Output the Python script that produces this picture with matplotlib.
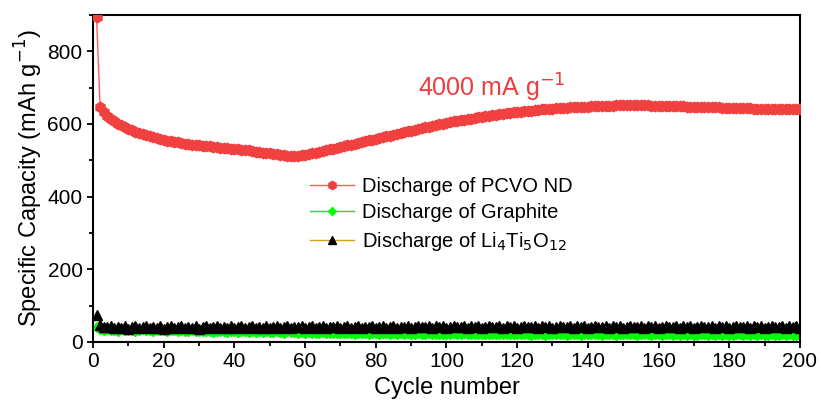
import matplotlib
matplotlib.use("Agg")
import matplotlib.pyplot as plt
from matplotlib.ticker import MultipleLocator

plt.rcParams['font.family'] = ['Liberation Sans', 'DejaVu Sans']

# capacity per cycle (mAh g-1), cycles 1..200
pcvo = [895, 648, 632, 622, 614, 607, 601, 596, 591, 587,
        583, 579, 575, 572, 569, 566, 563, 561, 558, 556,
        554, 552, 550, 549, 547, 546, 544, 543, 542, 541,
        540, 539, 538, 537, 536, 535, 534, 533, 532, 531,
        530, 529, 528, 527, 526, 524, 523, 521, 520, 519,
        517, 516, 515, 514, 513, 512, 512, 513, 514, 515,
        517, 519, 521, 523, 525, 527, 530, 532, 534, 537,
        539, 541, 543, 546, 548, 550, 552, 555, 557, 559,
        561, 564, 566, 568, 571, 573, 575, 578, 580, 582,
        584, 587, 589, 591, 593, 595, 597, 599, 601, 603,
        605, 607, 609, 610, 612, 614, 615, 617, 618, 620,
        621, 623, 624, 625, 627, 628, 629, 630, 632, 633,
        634, 635, 636, 637, 638, 639, 640, 641, 641, 642,
        643, 644, 644, 645, 646, 646, 647, 647, 648, 648,
        649, 649, 649, 650, 650, 650, 650, 651, 651, 651,
        651, 651, 651, 651, 651, 651, 651, 650, 650, 650,
        650, 650, 650, 649, 649, 649, 649, 648, 648, 648,
        648, 647, 647, 647, 646, 646, 646, 645, 645, 645,
        644, 644, 644, 643, 643, 643, 642, 642, 642, 642,
        641, 641, 641, 641, 640, 640, 640, 640, 640, 640]

graphite = [42, 36, 33, 35, 32, 34, 31, 35, 33, 32,
            34, 31, 33, 35, 32, 33, 31, 34, 32, 33,
            31, 33, 32, 30, 33, 31, 29, 32, 30, 31,
            29, 31, 30, 28, 31, 29, 30, 28, 31, 29,
            28, 30, 29, 27, 30, 28, 29, 27, 30, 28,
            27, 29, 28, 26, 29, 27, 28, 26, 27, 25,
            27, 25, 26, 24, 27, 25, 26, 24, 26, 25,
            24, 26, 25, 23, 26, 24, 25, 23, 25, 24,
            23, 25, 24, 22, 25, 23, 24, 22, 24, 23,
            22, 24, 23, 21, 24, 22, 23, 21, 23, 22,
            22, 24, 23, 21, 24, 22, 23, 21, 23, 22,
            22, 23, 22, 21, 23, 22, 23, 21, 22, 22,
            21, 23, 22, 20, 23, 21, 22, 20, 22, 21,
            21, 23, 22, 20, 23, 21, 22, 20, 22, 21,
            21, 23, 22, 20, 23, 21, 22, 20, 22, 21,
            21, 22, 21, 20, 22, 21, 22, 20, 21, 21,
            20, 22, 21, 19, 22, 20, 21, 19, 21, 20,
            20, 22, 21, 19, 22, 20, 21, 19, 21, 20,
            20, 22, 21, 19, 22, 20, 21, 19, 21, 20,
            20, 21, 20, 19, 21, 20, 21, 19, 20, 20]

lto = [75, 48, 42, 40, 43, 38, 42, 39, 44, 37,
       41, 43, 39, 40, 43, 38, 42, 39, 44, 37,
       41, 43, 39, 40, 43, 38, 42, 39, 44, 37,
       41, 43, 39, 40, 43, 38, 42, 39, 44, 38,
       41, 43, 39, 40, 44, 38, 42, 39, 44, 38,
       41, 43, 39, 41, 44, 38, 42, 40, 44, 38,
       41, 44, 39, 41, 44, 39, 42, 40, 45, 38,
       41, 44, 39, 41, 44, 39, 42, 40, 45, 38,
       42, 44, 39, 41, 44, 39, 42, 40, 45, 38,
       42, 44, 40, 41, 45, 39, 43, 40, 45, 39,
       42, 44, 40, 41, 45, 39, 43, 40, 45, 39,
       42, 44, 40, 41, 45, 39, 43, 40, 45, 39,
       42, 44, 40, 41, 45, 39, 43, 40, 45, 39,
       42, 44, 40, 42, 45, 39, 43, 40, 45, 39,
       42, 44, 40, 42, 45, 39, 43, 40, 45, 39,
       42, 44, 40, 42, 45, 39, 43, 40, 45, 39,
       42, 44, 40, 42, 45, 39, 43, 40, 45, 39,
       42, 44, 40, 42, 45, 39, 43, 40, 45, 39,
       42, 44, 40, 42, 45, 39, 43, 40, 45, 39,
       42, 44, 40, 42, 45, 39, 43, 40, 45, 39]

cycles = list(range(1, len(pcvo) + 1))

fig = plt.figure(figsize=(8.21, 4.16), dpi=100)
ax = fig.add_axes([0.1133, 0.178, 0.861, 0.786])

ax.plot(cycles, graphite, color='#33cc55', lw=1, marker='D', ms=5,
        mfc='#00ff00', mec='#00ff00', label='Discharge of Graphite', zorder=2)
ax.plot(cycles, lto, color='#d4a017', lw=1, marker='^', ms=6.5,
        mfc='black', mec='black', label='Discharge of Li$_4$Ti$_5$O$_{12}$', zorder=3)
ax.plot(cycles, pcvo, color='#ff5a5a', lw=1, marker='h', ms=7.5,
        mfc='#f04040', mec='#f04040', label='Discharge of PCVO ND', zorder=4)

ax.set_xlim(0, 200)
ax.set_ylim(0, 900)
ax.xaxis.set_major_locator(MultipleLocator(20))
ax.xaxis.set_minor_locator(MultipleLocator(10))
ax.yaxis.set_major_locator(MultipleLocator(200))
ax.yaxis.set_minor_locator(MultipleLocator(100))
ax.tick_params(which='both', direction='out', width=1.3, labelsize=15)
ax.tick_params(which='major', length=4)
ax.tick_params(which='minor', length=3)
for s in ax.spines.values():
    s.set_linewidth(1.5)

ax.set_xlabel('Cycle number', fontsize=17, labelpad=4)
ax.set_ylabel('Specific Capacity (mAh g$^{-1}$)', fontsize=17, labelpad=2)

ax.text(92, 700, '4000 mA g$^{-1}$', color='#f03c3c', fontsize=18, va='center')

h, l = ax.get_legend_handles_labels()
order = [2, 0, 1]
ax.legend([h[i] for i in order], [l[i] for i in order], loc='upper left',
          bbox_to_anchor=(0.307, 0.505), frameon=False, fontsize=14.5,
          handlelength=2.2, labelspacing=0.38, handletextpad=0.4,
          borderaxespad=0, borderpad=0, markerscale=0.8)

fig.savefig('out.png', dpi=100)
